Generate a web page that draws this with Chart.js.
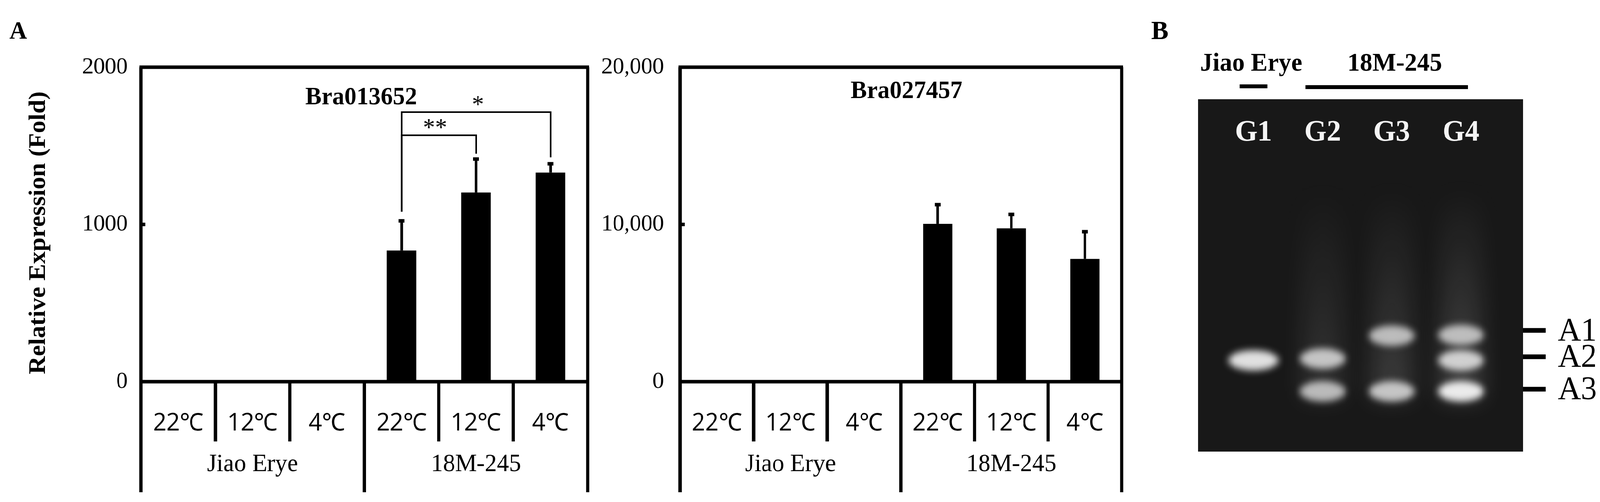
<!DOCTYPE html>
<html>
<head>
<meta charset="utf-8">
<script src="https://cdn.jsdelivr.net/npm/chart.js@4/dist/chart.umd.min.js"></script>
<style>
  html, body { margin: 0; padding: 0; background: #fff; overflow: hidden; }
  #page { width: 4225px; height: 1285px; position: relative; transform-origin: 0 0; }
  canvas { position: absolute; top: 0; display: block; }
</style>
</head>
<body>
<div id="page">
<canvas id="c1" width="1560" height="1285" style="left:0px;width:1560px;height:1285px"></canvas>
<canvas id="c2" width="1440" height="1285" style="left:1560px;width:1440px;height:1285px"></canvas>
<canvas id="c3" width="1225" height="1285" style="left:3000px;width:1225px;height:1285px"></canvas>
</div>
<script>
// the window may be narrower than the 4225px figure: squeeze it to fit
const fit = Math.min(1, window.innerWidth / 4225)
document.getElementById("page").style.transform = "scale(" + fit + ", 1)"

const temps = ["22℃", "12℃", "4℃", "22℃", "12℃", "4℃"]
const groups = ["Jiao Erye", "18M-245"]

const bra013652 = [3, 4, 3, 834, 1203, 1330]
const bra013652Err = [0, 0, 0, 190, 214, 57]
const bra013652Ticks = [0, 1000, 2000]

const bra027457 = [0, 0, 0, 10040, 9750, 7810]
const bra027457Err = [0, 0, 0, 1230, 900, 1740]
const bra027457Ticks = [0, 10000, 20000]

// significance brackets: from bar, to bar, level, drop-from end, drop-to end, label
const brackets = [
    { from: 3, to: 5, level: 1714, fromEnd: 1081, toEnd: 1427, label: "*" },
    { from: 3, to: 4, level: 1567, fromEnd: 1081, toEnd: 1450, label: "**" }
]

// gel: lanes and bands (relative migration, 0 = well, 100 = bottom)
const lanes = ["G1", "G2", "G3", "G4"]
const bandLanes = [1, 2, 2, 3, 3, 4, 4, 4]
const bandMigration = [74.1, 73.6, 82.9, 67.1, 82.9, 66.9, 74.1, 82.9]
const bandIntensity = [0.95, 0.8, 0.75, 0.75, 0.8, 0.75, 0.85, 1.0]
const markers = ["A1", "A2", "A3"]
const markerMigration = [65.6, 73.1, 82.3]

const SERIF = "'Liberation Serif', 'DejaVu Serif', serif"
const SANS = "'Open Sans', 'Liberation Sans', sans-serif"

Chart.defaults.devicePixelRatio = 1

const frame = {
    id: "frame",
    afterDatasetsDraw(chart, args, opts) {
        const ctx = chart.ctx
        const x = chart.scales.x, y = chart.scales.y
        const a = chart.chartArea
        const zero = y.getPixelForValue(0)
        const bottom = 1260, inner = 1130
        const ds = chart.data.datasets[0]
        const mid = i => (x.getPixelForValue(i) + x.getPixelForValue(i + 1)) / 2

        ctx.save()
        ctx.strokeStyle = "#000"
        ctx.fillStyle = "#000"

        // error bars
        ds.data.forEach((v, i) => {
            const e = opts.err[i]
            if (!e) return
            const cx = x.getPixelForValue(i)
            const t = y.getPixelForValue(v + e)
            ctx.lineWidth = 7
            ctx.beginPath()
            ctx.moveTo(cx, y.getPixelForValue(v))
            ctx.lineTo(cx, t)
            ctx.stroke()
            ctx.fillRect(cx - 8, t - 4, 16, 9)
        })

        // frame lines
        ctx.lineWidth = 9
        ctx.beginPath()
        ctx.moveTo(a.left - 4, a.top); ctx.lineTo(a.right + 4, a.top)
        ctx.moveTo(a.left, a.top); ctx.lineTo(a.left, bottom)
        ctx.moveTo(a.right, a.top); ctx.lineTo(a.right, bottom)
        ctx.moveTo(a.left, zero); ctx.lineTo(a.right, zero)
        ctx.moveTo(mid(2), zero); ctx.lineTo(mid(2), bottom)
        ;[0, 1, 3, 4].forEach(i => { ctx.moveTo(mid(i), zero); ctx.lineTo(mid(i), inner) })
        // small tick at the middle value
        const m = y.getPixelForValue(opts.ticks[1])
        ctx.moveTo(a.left, m); ctx.lineTo(a.left + 12, m)
        ctx.stroke()

        // category labels
        ctx.textAlign = "center"
        ctx.textBaseline = "middle"
        ctx.font = "62px " + SANS
        temps.forEach((t, i) => ctx.fillText(t, x.getPixelForValue(i), 1084))
        ctx.font = "64px " + SERIF
        ctx.fillText(groups[0], x.getPixelForValue(1), 1189)
        ctx.fillText(groups[1], x.getPixelForValue(4), 1189)

        // gene title
        ctx.font = "bold 64px " + SERIF
        ctx.fillText(opts.title, opts.titleX, opts.titleY)

        // significance
        ;(opts.brackets || []).forEach(b => {
            const x1 = x.getPixelForValue(b.from), x2 = x.getPixelForValue(b.to)
            const ly = y.getPixelForValue(b.level)
            ctx.lineWidth = 4
            ctx.beginPath()
            ctx.moveTo(x1, y.getPixelForValue(b.fromEnd)); ctx.lineTo(x1, ly)
            ctx.lineTo(x2, ly); ctx.lineTo(x2, y.getPixelForValue(b.toEnd))
            ctx.stroke()
            ctx.font = "64px " + SERIF
            ctx.fillText(b.label, (x1 + x2) / 2 - (b.label.length > 1 ? 10 : -5), ly - 16)
        })

        if (opts.yTitle) {
            ctx.translate(102, (a.top + bottom) / 2 - 120)
            ctx.rotate(-Math.PI / 2)
            ctx.font = "bold 64px " + SERIF
            ctx.fillText(opts.yTitle, 0, 0)
        }
        if (opts.letter) {
            ctx.setTransform(1, 0, 0, 1, 0, 0)
            ctx.font = "bold 64px " + SERIF
            ctx.fillText(opts.letter, 48, 82)
        }
        ctx.restore()
    }
}

const barChart = (id, values, err, ticks, axisWidth, padRight, plugOpts) => new Chart(document.getElementById(id), {
    type: "bar",
    data: {
        labels: temps,
        datasets: [{
            data: values,
            backgroundColor: "#000",
            barPercentage: 0.4,
            categoryPercentage: 1
        }]
    },
    options: {
        responsive: false,
        animation: false,
        layout: { padding: { top: 172, bottom: 308, left: 0, right: padRight } },
        scales: {
            x: { display: false },
            y: {
                min: ticks[0],
                max: ticks[2],
                afterFit: s => { s.width = axisWidth },
                afterBuildTicks: s => { s.ticks = ticks.map(v => ({ value: v })) },
                grid: { display: false, drawTicks: false },
                border: { display: false },
                ticks: {
                    padding: plugOpts.tickPad,
                    color: "#000",
                    font: { family: SERIF, size: 60 },
                    callback: v => v >= 10000 ? v.toLocaleString("en-US") : String(v)
                }
            }
        },
        plugins: {
            legend: { display: false },
            tooltip: { enabled: false },
            frame: Object.assign({ err: err, ticks: ticks }, plugOpts)
        }
    },
    plugins: [frame]
})

barChart("c1", bra013652, bra013652Err, bra013652Ticks, 372, 8, {
    tickPad: 35, title: "Bra013652", titleX: 954, titleY: 250,
    brackets: brackets, yTitle: "Relative Expression (Fold)", letter: "A"
})
barChart("c2", bra027457, bra027457Err, bra027457Ticks, 236, 38, {
    tickPad: 43, title: "Bra027457", titleX: 2394 - 1560, titleY: 234
})

// gel picture
const gel = {
    id: "gel",
    beforeDatasetsDraw(chart) {
        const ctx = chart.ctx
        const x = chart.scales.x, y = chart.scales.y
        const a = chart.chartArea
        ctx.save()
        ctx.fillStyle = "#181818"
        ctx.fillRect(a.left, a.top, a.right - a.left, a.bottom - a.top)
        ctx.beginPath(); ctx.rect(a.left, a.top, a.right - a.left, a.bottom - a.top); ctx.clip()
        const lw = x.getPixelForValue(1.33) - x.getPixelForValue(1)
        // smears
        ctx.filter = "blur(30px)"
        ;[2, 3, 4].forEach((l, k) => {
            const cx = x.getPixelForValue(l)
            const g = ctx.createLinearGradient(0, y.getPixelForValue(25), 0, y.getPixelForValue(85))
            g.addColorStop(0, "rgba(255,255,255,0)")
            g.addColorStop(1, "rgba(255,255,255," + (0.12 + k * 0.04) + ")")
            ctx.fillStyle = g
            ctx.fillRect(cx - lw * 0.9, y.getPixelForValue(25), lw * 1.8, y.getPixelForValue(85) - y.getPixelForValue(25))
        })
        // bands
        ctx.filter = "blur(9px)"
        bandLanes.forEach((l, i) => {
            const cx = x.getPixelForValue(l)
            const cy = y.getPixelForValue(bandMigration[i])
            const w = l === 1 ? lw * 1.1 : lw
            ctx.fillStyle = "rgba(235,235,235," + bandIntensity[i] + ")"
            ctx.beginPath()
            ctx.ellipse(cx, cy, w, 26, 0, 0, Math.PI * 2)
            ctx.fill()
        })
        ctx.filter = "none"
        // lane labels
        ctx.fillStyle = "#f4f4f4"
        ctx.font = "bold 76px " + SERIF
        ctx.textAlign = "center"
        ctx.textBaseline = "middle"
        lanes.forEach((t, i) => ctx.fillText(t, x.getPixelForValue(i + 1), y.getPixelForValue(9.6)))
        ctx.restore()

        // header and markers
        ctx.save()
        ctx.fillStyle = "#000"
        ctx.strokeStyle = "#000"
        ctx.textBaseline = "middle"
        ctx.textAlign = "left"
        ctx.font = "bold 68px " + SERIF
        ctx.fillText("B", 40, 82)
        ctx.textAlign = "center"
        ctx.font = "bold 66px " + SERIF
        ctx.fillText("Jiao Erye", 304, 164)
        ctx.fillText("18M-245", 683, 164)
        ctx.lineWidth = 10
        ctx.beginPath()
        ctx.moveTo(x.getPixelForValue(0.8), 221); ctx.lineTo(x.getPixelForValue(1.2), 221)
        ctx.moveTo(x.getPixelForValue(1.75), 223); ctx.lineTo(x.getPixelForValue(4.1), 223)
        ctx.stroke()
        ctx.textAlign = "left"
        ctx.font = "84px " + SERIF
        markers.forEach((m, i) => {
            const my = y.getPixelForValue(markerMigration[i])
            ctx.lineWidth = 12
            ctx.beginPath(); ctx.moveTo(a.right, my); ctx.lineTo(a.right + 60, my); ctx.stroke()
            ctx.fillText(m, a.right + 92, my + 4)
        })
        ctx.restore()
    }
}

new Chart(document.getElementById("c3"), {
    type: "scatter",
    data: { datasets: [{ data: [] }] },
    options: {
        responsive: false,
        animation: false,
        layout: { padding: { left: 164, right: 203, top: 254, bottom: 129 } },
        scales: {
            x: { display: false, min: 0.2, max: 4.9 },
            y: { display: false, min: 0, max: 100, reverse: true }
        },
        plugins: { legend: { display: false }, tooltip: { enabled: false } }
    },
    plugins: [gel]
})
</script>
</body>
</html>
